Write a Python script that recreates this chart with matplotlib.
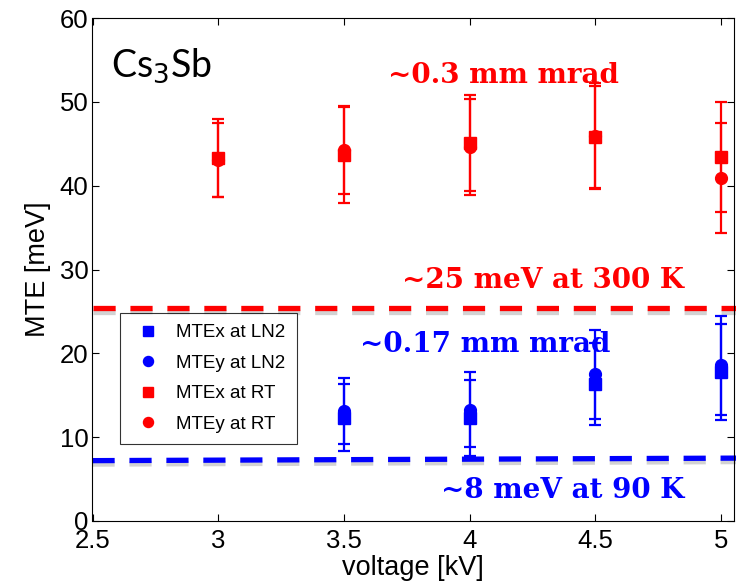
import matplotlib
matplotlib.use("Agg")
import matplotlib.pyplot as plt
import matplotlib.patheffects as pe

plt.rcParams['font.family'] = ['Liberation Sans', 'DejaVu Sans']

voltage_ln2 = [3.5, 4.0, 4.5, 5.0]
mtex_ln2 = [12.3, 12.3, 16.3, 17.75]
mtex_ln2_err = [4.0, 4.5, 4.9, 5.75]
mtey_ln2 = [13.15, 13.3, 17.5, 18.55]
mtey_ln2_err = [3.95, 4.45, 5.3, 5.95]

voltage_rt = [3.0, 3.5, 4.0, 4.5, 5.0]
mtex_rt = [43.3, 43.7, 45.1, 45.8, 43.4]
mtex_rt_err = [4.6, 5.8, 5.75, 6.1, 6.6]
mtey_rt = [43.1, 44.2, 44.6, 45.9, 40.9]
mtey_rt_err = [4.4, 5.2, 5.75, 6.3, 6.6]

rt_level = [25.4, 25.4]
ln2_level = [7.2, 7.5]
level_x = [2.5, 5.06]

xticks = [2.5, 3, 3.5, 4, 4.5, 5]
yticks = [0, 10, 20, 30, 40, 50, 60]

fig = plt.figure(figsize=(7.36, 5.84), dpi=100)
ax = fig.add_axes([92.5/736, 63/584, 641/736, 503/584])

shadow = [pe.SimpleLineShadow(offset=(0, -2.5), shadow_color='gray', alpha=0.35), pe.Normal()]
ax.plot(level_x, rt_level, color='#ff0000', lw=3.8, dashes=(4.2, 2.8), clip_on=False,
        path_effects=shadow, zorder=2)
ax.plot(level_x, ln2_level, color='#0000ff', lw=3.8, dashes=(4.2, 2.8), clip_on=False,
        path_effects=shadow, zorder=2)

ekw = dict(capsize=4.5, elinewidth=1.6, capthick=1.6, linestyle='none', ms=8.5, zorder=3)
ax.errorbar(voltage_ln2, mtex_ln2, yerr=mtex_ln2_err, marker='s', color='#0000ff', label='MTEx at LN2', **ekw)
ax.errorbar(voltage_ln2, mtey_ln2, yerr=mtey_ln2_err, marker='o', color='#0000ff', label='MTEy at LN2', **ekw)
ax.errorbar(voltage_rt, mtex_rt, yerr=mtex_rt_err, marker='s', color='#ff0000', label='MTEx at RT', **ekw)
ax.errorbar(voltage_rt, mtey_rt, yerr=mtey_rt_err, marker='o', color='#ff0000', label='MTEy at RT', **ekw)

ax.set_xlim(2.5, 5.05)
ax.set_ylim(0, 60)
ax.set_xticks(xticks)
ax.set_xticklabels([f'{t:g}' for t in xticks])
ax.set_yticks(yticks)
ax.tick_params(direction='in', length=5, width=0.8, labelsize=18.5, top=True, right=True)
ax.tick_params(axis='x', pad=6)
ax.tick_params(axis='y', pad=3)
ax.set_xlabel('voltage [kV]', fontsize=19.5, labelpad=1)
ax.set_ylabel('MTE [meV]', fontsize=19.5, labelpad=6)
for s in ax.spines.values():
    s.set_linewidth(0.8)

ax.text(2.575, 52.96, r'Cs$_3$Sb', fontsize=27, family=['Lato', 'DejaVu Sans'], va='baseline', ha='left')
serif = dict(fontsize=20, fontweight='bold', family=['DejaVu Serif'], ha='center', va='baseline')
ax.text(4.133, 52.25, '~0.3 mm mrad', color='#ff0000', **serif)
ax.text(4.292, 27.76, '~25 meV at 300 K', color='#ff0000', **serif)
ax.text(4.061, 20.16, '~0.17 mm mrad', color='#0000ff', **serif)
ax.text(4.372, 2.74, '~8 meV at 90 K', color='#0000ff', **serif)

handles, labels = ax.get_legend_handles_labels()
handles = [h[0] for h in handles]
leg = ax.legend(handles, labels, loc='upper left', bbox_to_anchor=(0.043, 0.414), fontsize=13.5,
                frameon=True, fancybox=False, edgecolor='black', labelspacing=0.72,
                handlelength=1.8, handletextpad=0.6, borderpad=0.6, borderaxespad=0,
                markerscale=0.85)
leg.get_frame().set_linewidth(0.8)

fig.savefig('out.png', dpi=100)
